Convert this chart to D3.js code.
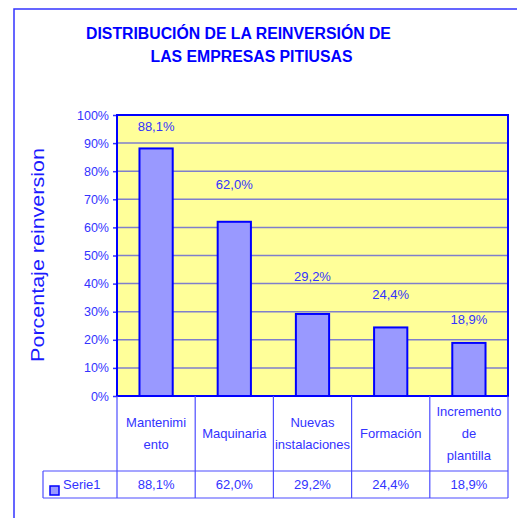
<!DOCTYPE html>
<html>
<head>
<meta charset="utf-8">
<script src="https://cdn.jsdelivr.net/npm/d3@7"></script>
<style>
  body { margin: 0; background: #fff; }
  svg { display: block; font-family: "Liberation Sans", Arial, sans-serif; }
</style>
</head>
<body>
<div id="chart"></div>
<script>
// data
const categories = ["Mantenimiento", "Maquinaria", "Nuevas instalaciones", "Formación", "Incremento de plantilla"];
const categoryLines = [["Mantenimi", "ento"], ["Maquinaria"], ["Nuevas", "instalaciones"], ["Formación"], ["Incremento", "de", "plantilla"]];
const serie1 = [0.881, 0.620, 0.292, 0.244, 0.189];
const seriesName = "Serie1";
const yTicks = [0, 0.1, 0.2, 0.3, 0.4, 0.5, 0.6, 0.7, 0.8, 0.9, 1.0];
const titleLines = ["DISTRIBUCIÓN DE LA REINVERSIÓN DE", "LAS EMPRESAS PITIUSAS"];
const yTitle = "Porcentaje reinversion";

// label distance above bar top (Excel places them a bit unevenly)
const labelDy = [17, 33, 33, 28, 19];
const titleX = [238.5, 251.5];

const W = 517, H = 518;
const plot = {left: 117, right: 508, top: 115, bottom: 396};
const catRowBottom = 471, valRowBottom = 498, legendLeft = 43;

const es = d3.formatLocale({decimal: ",", thousands: ".", grouping: [3], currency: ["", " €"]});
const pct1 = es.format(".1%");
const pct0 = es.format(".0%");

const svg = d3.select("#chart").append("svg").attr("width", W).attr("height", H);

// outer frame (runs off right and bottom)
svg.append("rect")
    .attr("x", 14).attr("y", 9)
    .attr("width", W + 10).attr("height", H + 10)
    .attr("fill", "none").attr("stroke", "#3333ff").attr("stroke-width", 1.5);

// title
svg.append("g").selectAll("text")
    .data(titleLines)
    .join("text")
    .attr("x", (d, i) => titleX[i])
    .attr("y", (d, i) => 38.5 + i * 23)
    .attr("text-anchor", "middle")
    .attr("font-size", 15.8)
    .attr("font-weight", "bold")
    .attr("fill", "#0000ff")
    .text(d => d);

const x = d3.scaleBand()
    .domain(categories)
    .range([plot.left, plot.right])
    .paddingInner(0.575)
    .paddingOuter(0.2875);

const y = d3.scaleLinear()
    .domain([0, 1])
    .range([plot.bottom, plot.top]);

// plot background
svg.append("rect")
    .attr("x", plot.left).attr("y", plot.top)
    .attr("width", plot.right - plot.left).attr("height", plot.bottom - plot.top)
    .attr("fill", "#ffff99");

// gridlines
svg.append("g").selectAll("line")
    .data(yTicks.slice(1, -1))
    .join("line")
    .attr("x1", plot.left).attr("x2", plot.right)
    .attr("y1", d => y(d)).attr("y2", d => y(d))
    .attr("stroke", "#7f7fcc").attr("stroke-width", 1.5);

// y axis
const yAxis = svg.append("g")
    .attr("transform", `translate(${plot.left},0)`)
    .call(d3.axisLeft(y).tickValues(yTicks).tickFormat(pct0).tickSize(4).tickPadding(4));
yAxis.select(".domain").remove();
yAxis.selectAll(".tick line").attr("stroke", "#3333ff").attr("stroke-width", 1.5);
yAxis.selectAll(".tick text")
    .attr("fill", "#3333ff")
    .attr("font-size", 12.5)
    .attr("font-family", "Liberation Sans, Arial, sans-serif");

// y title (Excel draws it a little condensed)
svg.append("text")
    .attr("transform", `translate(44,255) rotate(-90) scale(1,0.85)`)
    .attr("text-anchor", "middle")
    .attr("font-size", 21.5)
    .attr("fill", "#1a1aff")
    .text(yTitle);

// bars
svg.append("g").selectAll("rect")
    .data(serie1)
    .join("rect")
    .attr("x", (d, i) => x(categories[i]))
    .attr("y", d => y(d))
    .attr("width", x.bandwidth())
    .attr("height", d => y(0) - y(d))
    .attr("fill", "#9999ff")
    .attr("stroke", "#0000ff")
    .attr("stroke-width", 2);

// data labels
svg.append("g").selectAll("text")
    .data(serie1)
    .join("text")
    .attr("x", (d, i) => x(categories[i]) + x.bandwidth() / 2)
    .attr("y", (d, i) => y(d) - labelDy[i])
    .attr("text-anchor", "middle")
    .attr("font-size", 13)
    .attr("fill", "#3333ff")
    .text(d => pct1(d));

// plot border
svg.append("rect")
    .attr("x", plot.left).attr("y", plot.top)
    .attr("width", plot.right - plot.left).attr("height", plot.bottom - plot.top)
    .attr("fill", "none").attr("stroke", "#0000ff").attr("stroke-width", 2);

// data table
const table = svg.append("g").attr("stroke", "#4d4dff").attr("stroke-width", 1.2);
const colEdges = categories.map(c => x(c) - x.step() * x.paddingInner() / 2).concat([plot.right]);
table.selectAll("line.v")
    .data(colEdges)
    .join("line")
    .attr("class", "v")
    .attr("x1", d => d).attr("x2", d => d)
    .attr("y1", plot.bottom).attr("y2", valRowBottom);
table.append("line")
    .attr("x1", legendLeft).attr("x2", plot.right)
    .attr("y1", catRowBottom).attr("y2", catRowBottom);
table.append("line")
    .attr("x1", legendLeft).attr("x2", plot.right)
    .attr("y1", valRowBottom).attr("y2", valRowBottom);
table.append("line")
    .attr("x1", legendLeft).attr("x2", legendLeft)
    .attr("y1", catRowBottom).attr("y2", valRowBottom);

// category labels
const catMid = (plot.bottom + catRowBottom) / 2;
const lineH = 22;
svg.append("g").selectAll("text")
    .data(categoryLines)
    .join("text")
    .attr("text-anchor", "middle")
    .attr("font-size", 13)
    .attr("fill", "#3333ff")
    .each(function(lines, i) {
        const cx = x(categories[i]) + x.bandwidth() / 2;
        const y0 = catMid - (lines.length - 1) * lineH / 2 + 4;
        d3.select(this).selectAll("tspan")
            .data(lines)
            .join("tspan")
            .attr("x", cx)
            .attr("y", (l, j) => y0 + j * lineH)
            .text(l => l);
    });

// value row
const valMid = (catRowBottom + valRowBottom) / 2 + 4.5;
svg.append("g").selectAll("text")
    .data(serie1)
    .join("text")
    .attr("x", (d, i) => x(categories[i]) + x.bandwidth() / 2)
    .attr("y", valMid)
    .attr("text-anchor", "middle")
    .attr("font-size", 13)
    .attr("fill", "#3333ff")
    .text(d => pct1(d));

// legend key
svg.append("rect")
    .attr("x", 50).attr("y", 486)
    .attr("width", 9).attr("height", 9)
    .attr("fill", "#9999ff").attr("stroke", "#0000ff").attr("stroke-width", 1.5);
svg.append("text")
    .attr("x", 63).attr("y", valMid)
    .attr("font-size", 13)
    .attr("fill", "#3333ff")
    .text(seriesName);
</script>
</body>
</html>
